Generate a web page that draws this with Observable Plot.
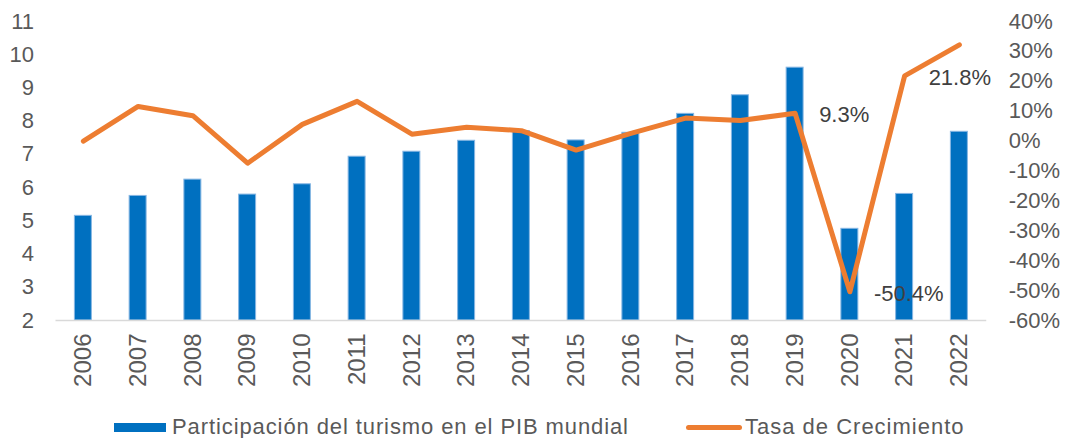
<!DOCTYPE html>
<html>
<head>
<meta charset="utf-8">
<script src="https://cdn.jsdelivr.net/npm/d3@7"></script>
<script src="https://cdn.jsdelivr.net/npm/@observablehq/plot@0.6"></script>
<style>
  body { margin: 0; background: #fff; font-family: "Liberation Sans", Arial, sans-serif; }
  #wrap { position: relative; width: 1065px; height: 438px; }
  #legend { position: absolute; left: 0; top: 413px; width: 1065px; height: 28px; font-size: 22px; color: #595959; }
  .item { position: absolute; top: 0; height: 28px; display: flex; align-items: center; }
  .sw-bar { width: 52px; height: 9px; background: #0070C0; margin-right: 6px; }
  .sw-line { width: 56px; height: 5px; background: #ED7D31; border-radius: 3px; margin-right: 3px; }
</style>
</head>
<body>
<div id="wrap">
  <div id="chart"></div>
  <div id="legend">
    <div class="item" style="left:114px;"><span class="sw-bar"></span><span style="letter-spacing:0.9px">Participación del turismo en el PIB mundial</span></div>
    <div class="item" style="left:686px;"><span class="sw-line"></span><span style="letter-spacing:1px">Tasa de Crecimiento</span></div>
  </div>
</div>
<script>
const years = ["2006","2007","2008","2009","2010","2011","2012","2013","2014","2015","2016","2017","2018","2019","2020","2021","2022"];
const share = [5.15, 5.75, 6.24, 5.79, 6.10, 6.93, 7.08, 7.41, 7.70, 7.42, 7.65, 8.22, 8.78, 9.61, 4.76, 5.81, 7.68];
const growth = [0.0, 11.6, 8.5, -7.4, 5.6, 13.3, 2.3, 4.6, 3.5, -3.0, 2.6, 7.7, 6.9, 9.3, -50.4, 21.8, 32.2];
const labeledYears = ["2019", "2020", "2021"];
const leftTicks = [2, 3, 4, 5, 6, 7, 8, 9, 10, 11];
const rightTicks = [-60, -50, -40, -30, -20, -10, 0, 10, 20, 30, 40];

// map growth % onto the left-axis scale (2..11 <-> -60%..40%)
const toLeft = p => 2 + (p + 60) / 100 * 9;
const toPct = v => Math.round((v - 2) / 9 * 100 - 60);

const data = years.map((y, i) => ({year: y, share: share[i], growth: growth[i], g: toLeft(growth[i])}));

const font = '"Liberation Sans", Arial, sans-serif';

const chart = Plot.plot({
  width: 1065,
  height: 405,
  marginLeft: 55.5,
  marginRight: 78.75,
  marginTop: 21,
  marginBottom: 85,
  style: {fontFamily: font, color: "#595959", background: "#fff"},
  x: {domain: years, paddingInner: 0.69, paddingOuter: 0.345, round: false, label: null},
  y: {domain: [2, 11], label: null},
  marks: [
    Plot.barY(data, {x: "year", y1: 2, y2: "share", fill: "#0070C0", stroke: "#86B6E3", strokeWidth: 1}),
    Plot.ruleY([2], {stroke: "#D9D9D9", strokeWidth: 1.5}),
    Plot.line(data, {x: "year", y: "g", stroke: "#ED7D31", strokeWidth: 5, strokeLinecap: "round", strokeLinejoin: "round"}),
    Plot.text(data.filter(d => labeledYears.includes(d.year)), {
      x: "year", y: "g", text: d => d.growth.toFixed(1) + "%",
      textAnchor: "start", dx: 24, dy: 2, fontSize: 22, fill: "#404040", letterSpacing: "1px"
    }),
    Plot.axisY(leftTicks, {anchor: "left", tickSize: 0, tickPadding: 22, fontSize: 22, label: null, fill: "#595959"}),
    Plot.axisY(rightTicks.map(toLeft), {anchor: "right", tickSize: 0, tickPadding: 22, fontSize: 22, label: null, fill: "#595959",
      tickFormat: v => toPct(v) + "%"}),
    Plot.axisX({anchor: "bottom", tickSize: 0, tickPadding: 13, tickRotate: -90, fontSize: 24, label: null, fill: "#595959"})
  ]
});
document.getElementById("chart").appendChild(chart);
</script>
</body>
</html>
